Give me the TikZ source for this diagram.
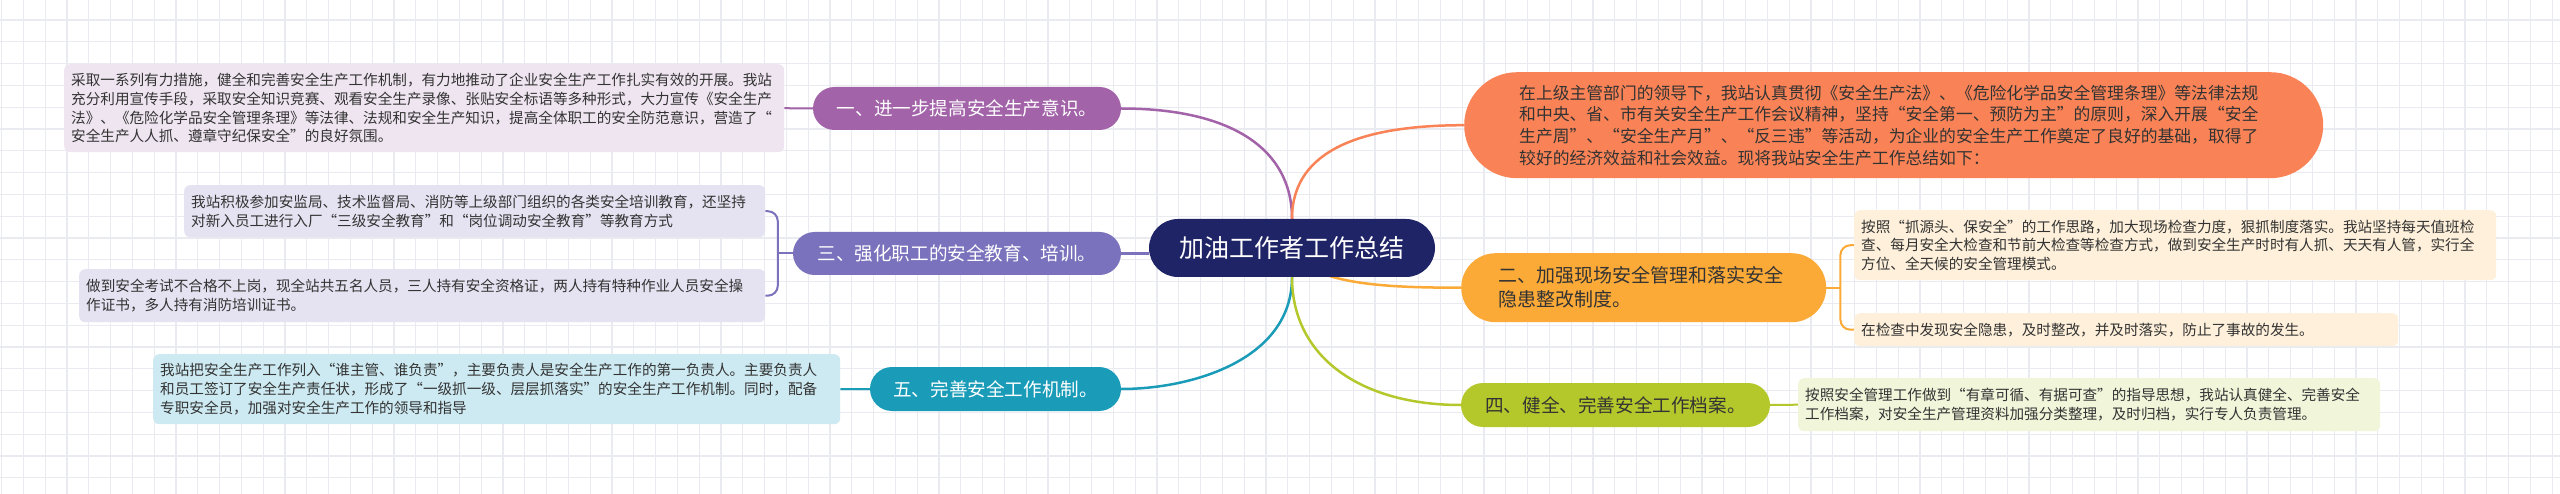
\documentclass[tikz,border=0pt]{standalone}
\usepackage{fontspec}
\setmainfont{Noto Sans CJK SC}
\usetikzlibrary{calc}
\definecolor{cNavy}{HTML}{1F2466}
\definecolor{cPur}{HTML}{A263A9}
\definecolor{cPurL}{HTML}{EFE5F1}
\definecolor{cSla}{HTML}{7A72BC}
\definecolor{cSlaL}{HTML}{E5E3F2}
\definecolor{cTeal}{HTML}{1A9CB9}
\definecolor{cTealL}{HTML}{CDEAF2}
\definecolor{cCoral}{HTML}{F98356}
\definecolor{cAmb}{HTML}{FBAA38}
\definecolor{cAmbL}{HTML}{FEF0DA}
\definecolor{cLime}{HTML}{B4C82C}
\definecolor{cLimeL}{HTML}{F1F5DA}
\definecolor{cTxt}{HTML}{333333}
\definecolor{cGrid}{HTML}{EAEBF0}
\newcommand\fNote{\fontsize{14.6}{18.8}\selectfont}
\newcommand\fBr{\fontsize{18.6}{24}\selectfont}
\pgfdeclarelayer{gridlayer}
\pgfdeclarelayer{linklayer}
\pgfsetlayers{gridlayer,linklayer,main}
\tikzset{
  pill/.style={inner sep=0pt, align=center, font=\fBr},
  note/.style={rounded corners=6, inner xsep=7, inner ysep=0, align=left, text=cTxt, font=\fNote, anchor=north west},
  mainlink/.style={line width=2.5},
  sublink/.style={line width=2},
}
\begin{document}
\begin{tikzpicture}[x=1pt,y=-1pt]
\useasboundingbox (0,0) rectangle (2560,494);
\begin{pgfonlayer}{gridlayer}
\fill[white] (0,0) rectangle (2560,494);
\foreach \i in {0,...,117} \draw[cGrid, line width=1.2] (1.5+\i*21.8,0) -- (1.5+\i*21.8,494);
\foreach \j in {1,...,22} \draw[cGrid, line width=1.2] (0,-1.8+\j*21.8) -- (2560,-1.8+\j*21.8);
\end{pgfonlayer}

% centre
\node[pill, fill=cNavy, text=white, font=\fontsize{25}{30}\selectfont, minimum width=286, minimum height=58, rounded corners=29] (c) at (1292,248) {加油工作者工作总结};

% branch one
\node[pill, fill=cPur, text=white, minimum width=308, minimum height=43, rounded corners=21.5] (n1) at (967,108.5) {一、进一步提高安全生产意识。};
\node[note, fill=cPurL, text width=706, minimum height=88] (n1t) at (64,64) {采取一系列有力措施，健全和完善安全生产工作机制，有力地推动了企业安全生产工作扎实有效的开展。我站\\充分利用宣传手段，采取安全知识竞赛、观看安全生产录像、张贴安全标语等多种形式，大力宣传《安全生产\\法》、《危险化学品安全管理条理》等法律、法规和安全生产知识，提高全体职工的安全防范意识，营造了“\\安全生产人人抓、遵章守纪保安全”的良好氛围。};

% branch three
\node[pill, fill=cSla, text=white, minimum width=328, minimum height=43, rounded corners=21.5] (n3) at (957,253.5) {三、强化职工的安全教育、培训。};
\node[note, fill=cSlaL, text width=567, minimum height=52] (n3a) at (184,185) {我站积极参加安监局、技术监督局、消防等上级部门组织的各类安全培训教育，还坚持\\对新入员工进行入厂“三级安全教育”和“岗位调动安全教育”等教育方式};
\node[note, fill=cSlaL, text width=672, minimum height=53] (n3b) at (79,269) {做到安全考试不合格不上岗，现全站共五名人员，三人持有安全资格证，两人持有特种作业人员安全操\\作证书，多人持有消防培训证书。};

% branch five
\node[pill, fill=cTeal, text=white, minimum width=251, minimum height=44, rounded corners=22] (n5) at (995.5,389) {五、完善安全工作机制。};
\node[note, fill=cTealL, text width=673, minimum height=70] (n5t) at (153,354) {我站把安全生产工作列入“谁主管、谁负责”，主要负责人是安全生产工作的第一负责人。主要负责人\\和员工签订了安全生产责任状，形成了“一级抓一级、层层抓落实”的安全生产工作机制。同时，配备\\专职安全员，加强对安全生产工作的领导和指导};

% intro
\node[fill=cCoral, text=cTxt, anchor=north west, rounded corners=53, minimum height=106, inner xsep=55, inner ysep=0, text width=749, align=left, font=\fontsize{16.8}{21.7}\selectfont] (intro) at (1464,72) {在上级主管部门的领导下，我站认真贯彻《安全生产法》、《危险化学品安全管理条理》等法律法规\\和中央、省、市有关安全生产工作会议精神，坚持“安全第一、预防为主”的原则，深入开展“安全\\生产周”、“安全生产月”、“反三违”等活动，为企业的安全生产工作奠定了良好的基础，取得了\\较好的经济效益和社会效益。现将我站安全生产工作总结如下：};

% branch two
\node[fill=cAmb, text=cTxt, anchor=north west, rounded corners=34.5, minimum height=69, inner xsep=37.5, inner ysep=0, text width=290, align=left, font=\fontsize{19}{24}\selectfont] (n2) at (1461,253) {二、加强现场安全管理和落实安全\\隐患整改制度。};
\node[note, fill=cAmbL, text width=628, minimum height=70] (n2a) at (1854,210) {按照“抓源头、保安全”的工作思路，加大现场检查力度，狠抓制度落实。我站坚持每天值班检\\查、每月安全大检查和节前大检查等检查方式，做到安全生产时时有人抓、天天有人管，实行全\\方位、全天候的安全管理模式。};
\node[note, fill=cAmbL, text width=530, minimum height=33] (n2b) at (1854,313) {在检查中发现安全隐患，及时整改，并及时落实，防止了事故的发生。};

% branch four
\node[pill, fill=cLime, text=cTxt, minimum width=309, minimum height=44, rounded corners=22] (n4) at (1615.5,405) {四、健全、完善安全工作档案。};
\node[note, fill=cLimeL, text width=568, minimum height=53] (n4t) at (1798,378) {按照安全管理工作做到“有章可循、有据可查”的指导思想，我站认真健全、完善安全\\工作档案，对安全生产管理资料加强分类整理，及时归档，实行专人负责管理。};

\coordinate (b3) at ($(n3.west)+(-15,0)$);
\coordinate (b2) at ($(n2.east)+(14,0)$);

\begin{pgfonlayer}{linklayer}
\draw[mainlink, cPur] (n1.east) .. controls +(110,0) and +(0,-70) .. (c.north);
\draw[mainlink, cCoral] (c.north) .. controls +(0,-70) and +(-100,0) .. (intro.west);
\draw[mainlink, cAmb] (c.center) .. controls +(15,36) and +(-80,0) .. (n2.west);
\draw[mainlink, cSla] (n3.east) -- (n3.east -| c.west);
\draw[mainlink, cTeal] (c.south) .. controls +(0,83) and +(70,0) .. (n5.east);
\draw[mainlink, cLime] (c.south) .. controls +(0,80) and +(-100,0) .. (n4.west);
\draw[sublink, cPur] (n1.west) -- (n1t.east);
\draw[sublink, cTeal] (n5.west) -- (n5t.east);
\draw[sublink, cLime] (n4.east) -- (n4t.west);
\draw[sublink, cSla] (n3.west) -- (b3);
\draw[sublink, cSla, rounded corners=10] (n3a.east) -| (b3) |- (n3b.east);
\draw[sublink, cAmb] (n2.east) -- (b2);
\draw[sublink, cAmb, rounded corners=10] (n2a.west) -| (b2) |- (n2b.west);
\end{pgfonlayer}
\end{tikzpicture}
\end{document}
